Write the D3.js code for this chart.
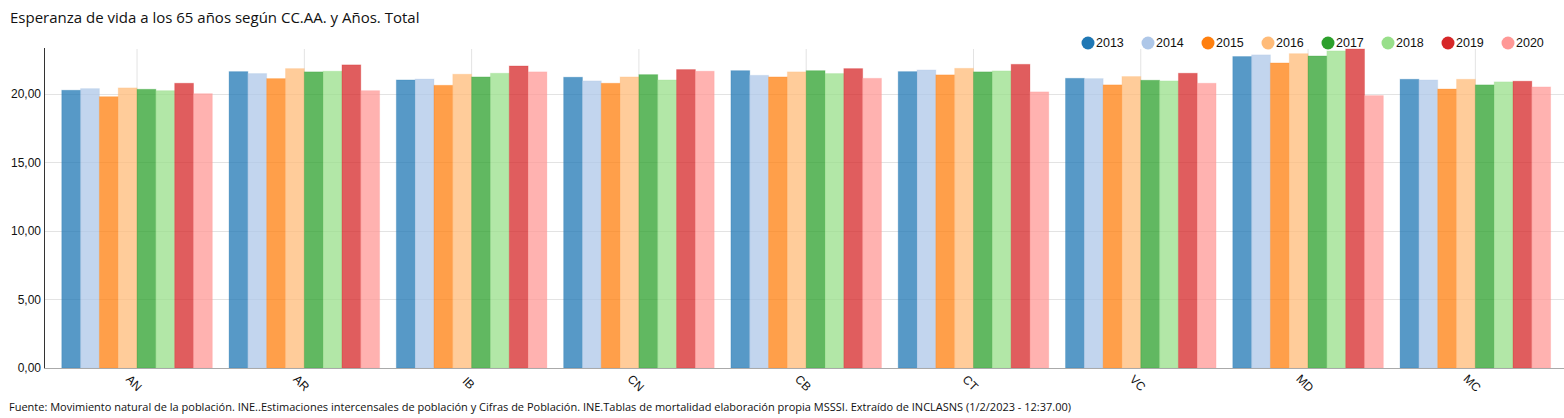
<!DOCTYPE html>
<html>
<head>
<meta charset="utf-8">
<script src="https://cdn.jsdelivr.net/npm/d3@7"></script>
<style>
  body { margin: 0; background: #fff; }
  svg text { fill: #111; }
</style>
</head>
<body>
<div id="graph"></div>
<script>
var regions = ['AN', 'AR', 'IB', 'CN', 'CB', 'CT', 'VC', 'MD', 'MC'];
var years = ['2013', '2014', '2015', '2016', '2017', '2018', '2019', '2020'];
var colors = ['#1f77b4', '#aec7e8', '#ff7f0e', '#ffbb78', '#2ca02c', '#98df8a', '#d62728', '#ff9896'];
var yTicks = [0, 5, 10, 15, 20];

// one array per region, in year order
var AN = [20.27, 20.39, 19.80, 20.44, 20.34, 20.24, 20.78, 20.02];
var AR = [21.63, 21.49, 21.12, 21.85, 21.61, 21.66, 22.12, 20.24];
var IB = [21.02, 21.09, 20.63, 21.44, 21.24, 21.51, 22.04, 21.61];
var CN = [21.22, 20.95, 20.78, 21.24, 21.41, 21.02, 21.78, 21.66];
var CB = [21.70, 21.36, 21.24, 21.61, 21.70, 21.49, 21.85, 21.14];
var CT = [21.63, 21.75, 21.39, 21.87, 21.61, 21.68, 22.16, 20.15];
var VC = [21.14, 21.12, 20.66, 21.27, 21.00, 20.95, 21.51, 20.78];
var MD = [22.73, 22.85, 22.26, 22.94, 22.77, 23.14, 23.28, 19.88];
var MC = [21.07, 21.02, 20.36, 21.07, 20.66, 20.88, 20.93, 20.51];
var values = [AN, AR, IB, CN, CB, CT, VC, MD, MC];

var width = 1564, height = 418;
var plotTop = 49, plotBottom = 368, axisX = 44;

var svg = d3.select('#graph')
    .append('svg')
        .attr('width', width)
        .attr('height', height);

var fmt = function(d) { return d3.format('.2f')(d).replace('.', ','); };

var x0 = d3.scaleBand()
    .domain(regions)
    .range([53.4, 1559])
    .paddingInner(0.1)
    .paddingOuter(0.05);

var x1 = d3.scaleBand()
    .domain(years)
    .range([0, x0.bandwidth()]);

var y = d3.scaleLinear()
    .domain([0, d3.max(values, function(v) { return d3.max(v); })])
    .range([plotBottom, plotTop]);

var color = d3.scaleOrdinal().domain(years).range(colors);

// grid
svg.append('g')
    .selectAll('line')
    .data(yTicks.slice(1))
    .enter().append('line')
        .attr('x1', axisX).attr('x2', width)
        .attr('y1', function(d) { return Math.round(y(d)) + 0.5; })
        .attr('y2', function(d) { return Math.round(y(d)) + 0.5; })
        .attr('stroke', '#e3e3e3');

svg.append('g')
    .selectAll('line')
    .data(regions)
    .enter().append('line')
        .attr('x1', function(d) { return x0(d) + x0.bandwidth() / 2; })
        .attr('x2', function(d) { return x0(d) + x0.bandwidth() / 2; })
        .attr('y1', plotTop).attr('y2', plotBottom)
        .attr('stroke', '#e3e3e3');

// bars
var groups = svg.append('g')
    .selectAll('g')
    .data(regions)
    .enter().append('g')
        .attr('transform', function(d) { return 'translate(' + x0(d) + ',0)'; });

groups.selectAll('rect')
    .data(function(d, i) {
        return years.map(function(yr, j) { return {year: yr, value: values[i][j]}; });
    })
    .enter().append('rect')
        .attr('x', function(d) { return x1(d.year); })
        .attr('y', function(d) { return y(d.value); })
        .attr('width', x1.bandwidth())
        .attr('height', function(d) { return plotBottom - y(d.value); })
        .attr('fill', function(d) { return color(d.year); })
        .attr('fill-opacity', 0.75)
        .attr('stroke', function(d) { return color(d.year); })
        .attr('stroke-opacity', 0.25);

// y axis
var yAxis = svg.append('g')
    .attr('transform', 'translate(' + axisX + ',0)')
    .call(d3.axisLeft(y).tickValues(yTicks).tickFormat(fmt).tickSize(0).tickPadding(3));
yAxis.select('.domain').attr('stroke', '#333').attr('d', 'M0.5,' + (plotTop - 1) + 'V' + plotBottom);
yAxis.selectAll('text')
    .style('font-family', '"Liberation Sans", Arial, sans-serif')
    .style('font-size', '12px')
    .attr('fill', '#111');

// x axis
svg.append('line')
    .attr('x1', axisX).attr('x2', width)
    .attr('y1', plotBottom + 0.5).attr('y2', plotBottom + 0.5)
    .attr('stroke', '#aaa');

svg.append('g')
    .selectAll('text')
    .data(regions)
    .enter().append('text')
        .attr('transform', function(d) {
            return 'translate(' + (x0(d) + x0.bandwidth() / 2 - 3) + ',383) rotate(45)';
        })
        .attr('text-anchor', 'middle')
        .attr('dy', '0.35em')
        .style('font-family', '"Liberation Sans", Arial, sans-serif')
        .style('font-size', '12px')
        .text(function(d) { return d; });

// legend
var legend = svg.append('g')
    .selectAll('g')
    .data(years)
    .enter().append('g')
        .attr('transform', function(d, i) { return 'translate(' + (1088 + i * 60) + ',43)'; });
legend.append('circle')
    .attr('r', 6.5)
    .attr('fill', function(d) { return color(d); });
legend.append('text')
    .attr('x', 8)
    .attr('dy', '0.35em')
    .style('font-family', '"Liberation Sans", Arial, sans-serif')
    .style('font-size', '12.5px')
    .text(function(d) { return d; });

// title and source
svg.append('text')
    .attr('x', 10).attr('y', 23)
    .style('font-family', '"Open Sans", sans-serif')
    .style('font-size', '15px')
    .text('Esperanza de vida a los 65 años según CC.AA. y Años. Total');

svg.append('text')
    .attr('x', 9).attr('y', 411)
    .style('font-family', '"Open Sans", sans-serif')
    .style('font-size', '11px')
    .text('Fuente: Movimiento natural de la población. INE..Estimaciones intercensales de población y Cifras de Población. INE.Tablas de mortalidad elaboración propia MSSSI. Extraído de INCLASNS (1/2/2023 - 12:37.00)');
</script>
</body>
</html>
